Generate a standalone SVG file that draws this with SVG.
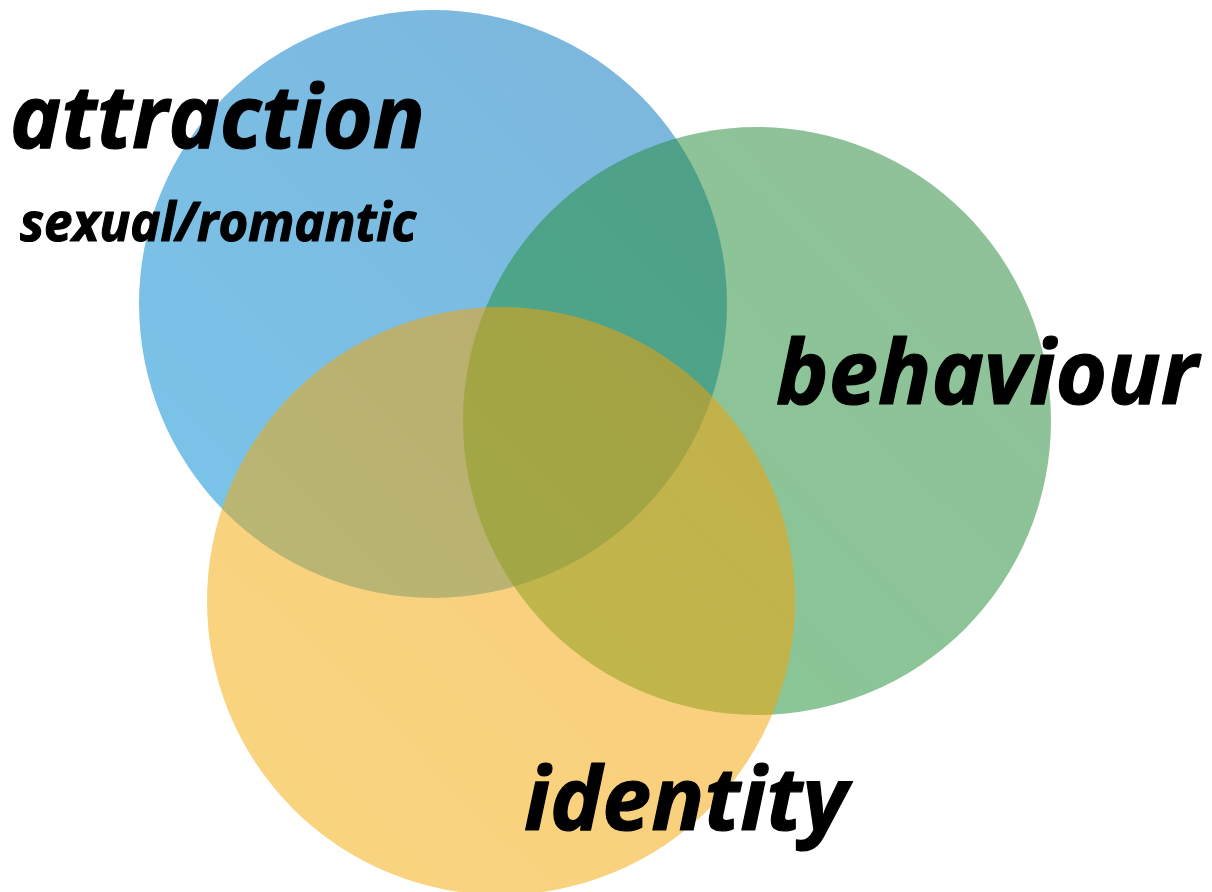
<svg xmlns="http://www.w3.org/2000/svg" width="1212" height="892" viewBox="0 0 1212 892">
  <style>
    .set { fill-opacity: 0.52; }
    .lbl { font-family: "Open Sans", "Noto Sans", "DejaVu Sans", sans-serif; font-weight: bold; font-style: italic; fill: #000000; stroke: #000000; stroke-width: 1.2; stroke-linejoin: round; }
  </style>
  <defs>
    <linearGradient id="gBlue" x1="0" y1="1" x2="1" y2="0">
      <stop offset="0" stop-color="#0090d8"/>
      <stop offset="1" stop-color="#0670bb"/>
    </linearGradient>
    <linearGradient id="gGreen" x1="0" y1="1" x2="1" y2="0">
      <stop offset="0" stop-color="#1a9535"/>
      <stop offset="1" stop-color="#2c863c"/>
    </linearGradient>
    <linearGradient id="gOrange" x1="0" y1="1" x2="1" y2="0">
      <stop offset="0" stop-color="#f4af0a"/>
      <stop offset="1" stop-color="#f39e04"/>
    </linearGradient>
  </defs>
  <rect width="1212" height="892" fill="#ffffff"/>
  <g id="attraction">
    <circle class="set" cx="433" cy="304" r="294" fill="url(#gBlue)"/>
  </g>
  <g id="behaviour">
    <circle class="set" cx="757" cy="421" r="294" fill="url(#gGreen)"/>
  </g>
  <g id="identity">
    <circle class="set" cx="501" cy="601" r="294" fill="url(#gOrange)"/>
  </g>
  <g id="labels">
    <text class="lbl" x="10" y="148" font-size="88" textLength="415" lengthAdjust="spacingAndGlyphs">attraction</text>
    <text class="lbl" x="20" y="241" font-size="54" textLength="396" lengthAdjust="spacingAndGlyphs">sexual/romantic</text>
    <text class="lbl" x="776" y="404" font-size="90" textLength="422" lengthAdjust="spacingAndGlyphs">behaviour</text>
    <text class="lbl" x="524" y="830" font-size="88" textLength="324" lengthAdjust="spacingAndGlyphs">identity</text>
  </g>
  <g id="connectors"/>
</svg>
